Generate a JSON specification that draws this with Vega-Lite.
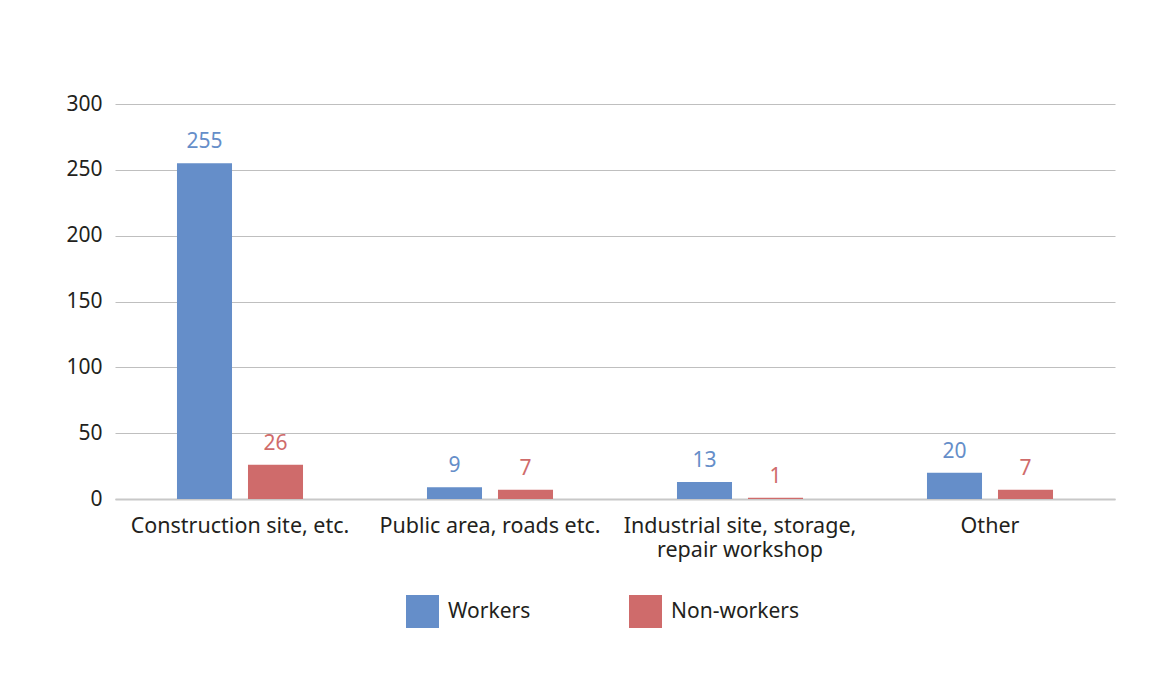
{
  "$schema": "https://vega.github.io/schema/vega-lite/v6.json",
  "width": 1000,
  "height": 395,
  "autosize": {"type": "none"},
  "padding": {"left": 115, "top": 104, "right": 54, "bottom": 190},
  "background": "white",
  "config": {
    "view": {"stroke": null},
    "font": "Noto Sans",
    "axis": {"labelFont": "Noto Sans", "labelColor": "#231f20"},
    "legend": {"labelFont": "Noto Sans"}
  },
  "data": {
    "values": [
      {"location": "Construction site, etc.", "group": "Workers", "value": 255},
      {"location": "Construction site, etc.", "group": "Non-workers", "value": 26},
      {"location": "Public area, roads etc.", "group": "Workers", "value": 9},
      {"location": "Public area, roads etc.", "group": "Non-workers", "value": 7},
      {"location": "Industrial site, storage,|repair workshop", "group": "Workers", "value": 13},
      {"location": "Industrial site, storage,|repair workshop", "group": "Non-workers", "value": 1},
      {"location": "Other", "group": "Workers", "value": 20},
      {"location": "Other", "group": "Non-workers", "value": 7}
    ]
  },
  "encoding": {
    "x": {
      "field": "location",
      "type": "nominal",
      "sort": null,
      "scale": {"paddingInner": 0, "paddingOuter": 0},
      "axis": {
        "title": null,
        "labelAngle": 0,
        "labelFontSize": 21.5,
        "labelPadding": 16,
        "labelExpr": "split(datum.label, '|')",
        "labelLineHeight": 24,
        "ticks": false,
        "domainColor": "#c8c8c8",
        "domainWidth": 2,
        "labelLimit": 300
      }
    },
    "xOffset": {
      "field": "group",
      "type": "nominal",
      "sort": ["Workers", "Non-workers"],
      "scale": {"paddingInner": 0.225, "paddingOuter": 0.873}
    },
    "y": {
      "field": "value",
      "type": "quantitative",
      "scale": {"domain": [0, 300]},
      "axis": {
        "title": null,
        "values": [0, 50, 100, 150, 200, 250, 300],
        "labelFontSize": 21,
        "labelPadding": 13,
        "ticks": false,
        "domain": false,
        "gridColor": "#bfbfbf",
        "gridWidth": 1
      }
    },
    "color": {
      "field": "group",
      "type": "nominal",
      "sort": ["Workers", "Non-workers"],
      "scale": {"domain": ["Workers", "Non-workers"], "range": ["#658ec9", "#cf6b6b"]},
      "legend": {
        "title": null,
        "orient": "none",
        "legendX": 291,
        "legendY": 491,
        "direction": "horizontal",
        "symbolType": "square",
        "symbolSize": 1089,
        "symbolStrokeWidth": 0,
        "labelFontSize": 21,
        "labelColor": "#231f20",
        "labelOffset": 9,
        "columnPadding": 98,
        "padding": 0
      }
    }
  },
  "layer": [
    {"mark": {"type": "bar"}},
    {
      "mark": {"type": "text", "dy": -11, "baseline": "bottom", "fontSize": 21},
      "encoding": {"text": {"field": "value", "type": "quantitative"}}
    }
  ]
}
